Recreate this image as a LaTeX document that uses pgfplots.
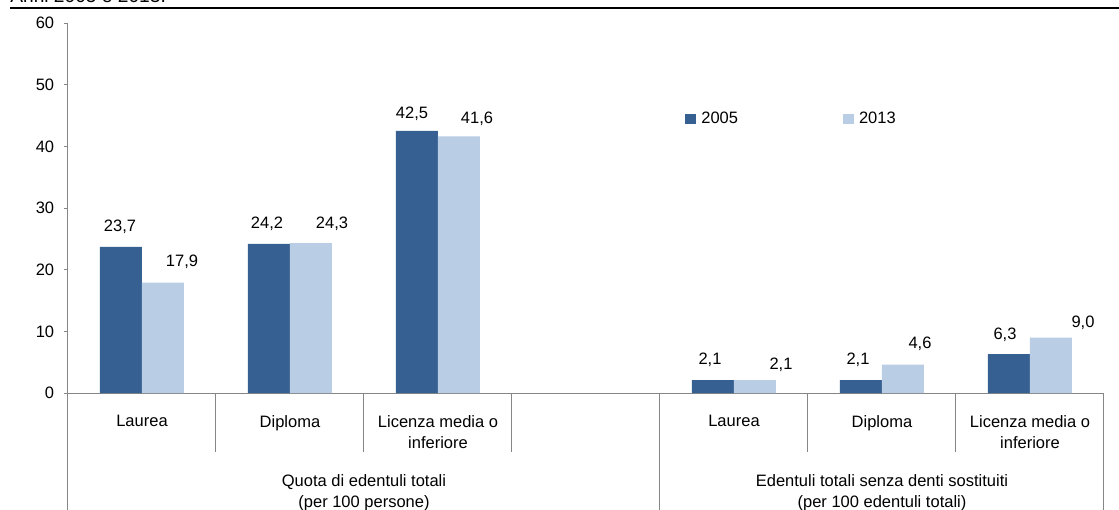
\documentclass[border=0pt]{standalone}
\usepackage{pgfplots}
\usepackage{pgfplotstable}
\pgfplotsset{compat=1.18}
\usepackage{fontspec}
\setmainfont{Liberation Sans}
\definecolor{dark}{RGB}{55,96,146}
\definecolor{light}{RGB}{185,205,229}
\definecolor{axgray}{RGB}{134,134,134}

% x = category position, y = value, dx/dy = label offset from category centre (pt)
\pgfplotstableread{
x y dx dy
0 23.7 -13.2 11.9
1 24.2 -13.8 11.9
2 42.5 -15.6 10.1
4 2.1 -14.4 12.1
5 2.1 -14.4 12.1
6 6.3 -15.0 11.5
}\tA
\pgfplotstableread{
x y dx dy
0 17.9 24.0 12.4
1 24.3 25.2 11.5
2 41.6 23.4 10.5
4 2.1 28.2 9.1
5 4.6 22.8 12.4
6 9.0 31.8 8.7
}\tB

\begin{document}
\begin{tikzpicture}[font=\fontsize{9.9pt}{12.6pt}\selectfont]
\path[use as bounding box] (-40.8pt,-69.6pt) rectangle (630.6pt,235.8pt);
\node[anchor=base west, inner sep=0pt, font=\fontsize{11.5pt}{13pt}\selectfont] at (-34.8pt,234.2pt) {Anni 2005 e 2013.};
\draw[line width=1.2pt] (-34.8pt,231.1pt) -- (632pt,231.1pt);
\begin{axis}[
  at={(0,0)}, anchor=south west,
  scale only axis, width=621.6pt, height=222pt,
  xmin=-0.5, xmax=6.5, ymin=0, ymax=60,
  clip=false,
  axis x line*=bottom, axis y line*=left,
  axis line style={draw=axgray, line width=0.6pt},
  tick align=outside,
  major tick length=2.4pt,
  ytick={0,10,...,60},
  y tick style={draw=axgray, line width=0.6pt},
  major x tick style={draw=none},
  yticklabel style={anchor=east, inner sep=0pt, xshift=-5.7pt, font=\fontsize{9.9pt}{12.6pt}\selectfont},
  xtick={0,...,6},
  xticklabels={Laurea, Diploma, {Licenza media o\\inferiore}, {}, Laurea, Diploma, {Licenza media o\\inferiore}},
  xticklabel style={anchor=north, inner sep=0pt, yshift=-10.8pt, align=center, font=\fontsize{9.9pt}{12.6pt}\selectfont},
  /pgf/number format/assume math mode=true,
  legend columns=2,
  legend style={at={(0.5956,0.7405)}, anchor=west, draw=none, fill=none, inner sep=0pt,
    nodes={inner sep=0pt, anchor=west, font=\fontsize{9.9pt}{12.6pt}\selectfont},
    /tikz/every odd column/.append style={column sep=3pt},
    /tikz/every even column/.append style={column sep=63pt}},
  legend image code/.code={\fill[#1] (0pt,-3pt) rectangle (6.6pt,3pt);},
]
\addplot[ybar, bar width=25.2pt, bar shift=-12.6pt, fill=dark, draw=none,
  visualization depends on={\thisrow{dx} \as \dx},
  visualization depends on={\thisrow{dy} \as \dy},
  nodes near coords={\pgfmathprintnumber[fixed,fixed zerofill,precision=1,use comma]{\pgfplotspointmeta}},
  nodes near coords style={anchor=center, inner sep=0pt, xshift=\dx pt, yshift=\dy pt, text=black, font=\fontsize{9.9pt}{12.6pt}\selectfont}]
  table[x=x, y=y] {\tA};
\addlegendentry{2005}
\addplot[ybar, bar width=25.2pt, bar shift=12.6pt, fill=light, draw=none,
  visualization depends on={\thisrow{dx} \as \dx},
  visualization depends on={\thisrow{dy} \as \dy},
  nodes near coords={\pgfmathprintnumber[fixed,fixed zerofill,precision=1,use comma]{\pgfplotspointmeta}},
  nodes near coords style={anchor=center, inner sep=0pt, xshift=\dx pt, yshift=\dy pt, text=black, font=\fontsize{9.9pt}{12.6pt}\selectfont}]
  table[x=x, y=y] {\tB};
\addlegendentry{2013}
% category separators below the axis
\draw[axgray, line width=0.6pt] (axis cs:0.5,0) -- ++(0pt,-35.4pt);
\draw[axgray, line width=0.6pt] (axis cs:1.5,0) -- ++(0pt,-35.4pt);
\draw[axgray, line width=0.6pt] (axis cs:2.5,0) -- ++(0pt,-35.4pt);
\draw[axgray, line width=0.6pt] (axis cs:4.5,0) -- ++(0pt,-35.4pt);
\draw[axgray, line width=0.6pt] (axis cs:5.5,0) -- ++(0pt,-35.4pt);
\draw[axgray, line width=0.6pt] (axis cs:-0.5,0) -- ++(0pt,-80pt);
\draw[axgray, line width=0.6pt] (axis cs:3.5,0) -- ++(0pt,-80pt);
\draw[axgray, line width=0.6pt] (axis cs:6.5,0) -- ++(0pt,-80pt);
\node[anchor=north, inner sep=0pt, align=center] at (axis cs:1.5,0) [yshift=-48.6pt] {Quota di edentuli totali\\(per 100 persone)};
\node[anchor=north, inner sep=0pt, align=center] at (axis cs:5,0) [yshift=-48.6pt] {Edentuli totali senza denti sostituiti\\(per 100 edentuli totali)};
\end{axis}
\end{tikzpicture}
\end{document}
